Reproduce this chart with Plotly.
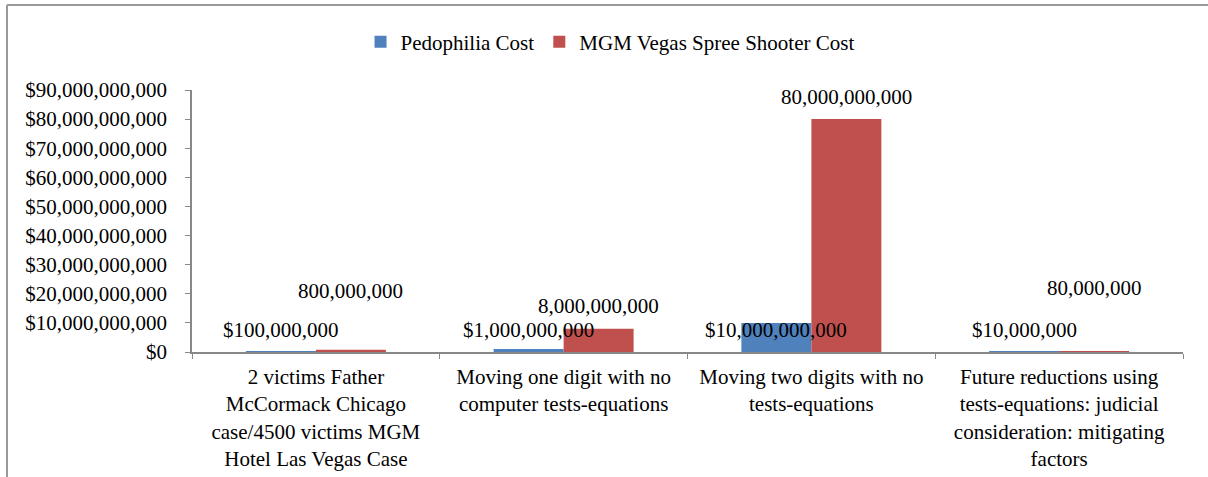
import plotly.graph_objects as go

categories = [
    "2 victims Father<br>McCormack Chicago<br>case/4500 victims MGM<br>Hotel Las Vegas Case",
    "Moving one digit with no<br>computer tests-equations",
    "Moving two digits with no<br>tests-equations",
    "Future reductions using<br>tests-equations: judicial<br>consideration: mitigating<br>factors",
]
pedophilia_cost = [100_000_000, 1_000_000_000, 10_000_000_000, 10_000_000]
mgm_cost = [800_000_000, 8_000_000_000, 80_000_000_000, 80_000_000]
tick_vals = [i * 10_000_000_000 for i in range(10)]
tick_text = ["$" + format(v, ",") for v in tick_vals]

# label placement (data-unit centres of the data labels, as in the source chart)
blue_label_y = [7.5e9, 7.5e9, 7.5e9, 7.5e9]
red_label_y = [21.0e9, 15.8e9, 87.6e9, 22.0e9]

BLUE = "#4F81BD"
RED = "#C0504D"
FONT = "Liberation Serif"
NUM_SIZE = 21
CAT_SIZE = 21

fig = go.Figure()
fig.add_trace(go.Bar(name="Pedophilia Cost", x=categories, y=pedophilia_cost,
                     marker=dict(color=BLUE, line=dict(width=0))))
fig.add_trace(go.Bar(name="MGM Vegas Spree Shooter Cost", x=categories, y=mgm_cost,
                     marker=dict(color=RED, line=dict(width=0))))

annotations = []
for c, v, ly in zip(categories, pedophilia_cost, blue_label_y):
    annotations.append(dict(x=c, y=ly, xref="x", yref="y", text="$" + format(v, ","),
                            showarrow=False, xshift=-35, yanchor="middle",
                            font=dict(family=FONT, size=NUM_SIZE, color="black")))
for c, v, ly in zip(categories, mgm_cost, red_label_y):
    annotations.append(dict(x=c, y=ly, xref="x", yref="y", text=format(v, ","),
                            showarrow=False, xshift=35, yanchor="middle",
                            font=dict(family=FONT, size=NUM_SIZE, color="black")))

fig.update_layout(
    width=1208, height=477,
    margin=dict(l=192, r=25, t=90, b=125, autoexpand=False),
    paper_bgcolor="white", plot_bgcolor="white",
    barmode="group", bargap=0.435, bargroupgap=0,
    font=dict(family=FONT, size=NUM_SIZE, color="black"),
    showlegend=True,
    legend=dict(orientation="h", xref="container", yref="container",
                x=0.505, xanchor="center", y=0.912, yanchor="middle",
                font=dict(family=FONT, size=NUM_SIZE, color="black"),
                itemwidth=30, traceorder="normal"),
    annotations=annotations,
    shapes=[
        dict(type="line", xref="paper", yref="paper",
             x0=(7 - 192) / 991, x1=(1208 - 192) / 991,
             y0=1 + (90 - 5) / 262, y1=1 + (90 - 5) / 262,
             line=dict(color="#999999", width=2)),
        dict(type="line", xref="paper", yref="paper",
             x0=(7 - 192) / 991, x1=(7 - 192) / 991,
             y0=1 + (90 - 5) / 262, y1=-(477 - 352) / 262,
             line=dict(color="#999999", width=2)),
    ],
)
fig.update_yaxes(range=[0, 90_000_000_000], tickvals=tick_vals, ticktext=tick_text,
                 automargin=False,
                 showgrid=False, zeroline=False, showline=True, linecolor="#888888",
                 linewidth=1.5, ticks="outside", ticklen=5, tickcolor="#888888",
                 ticklabelstandoff=14,
                 tickfont=dict(family=FONT, size=NUM_SIZE, color="black"))
fig.update_xaxes(automargin=False,
                 showgrid=False, showline=True, linecolor="#888888", linewidth=1.5,
                 ticks="outside", ticklen=5, tickcolor="#888888", tickson="boundaries",
                 tickangle=0, tickfont=dict(family=FONT, size=CAT_SIZE, color="black"),
                 ticklabelstandoff=5)

fig.write_html("out.html",
               config={"displayModeBar": False},
               post_script="document.body.style.margin='0';document.body.style.overflow='hidden';")
